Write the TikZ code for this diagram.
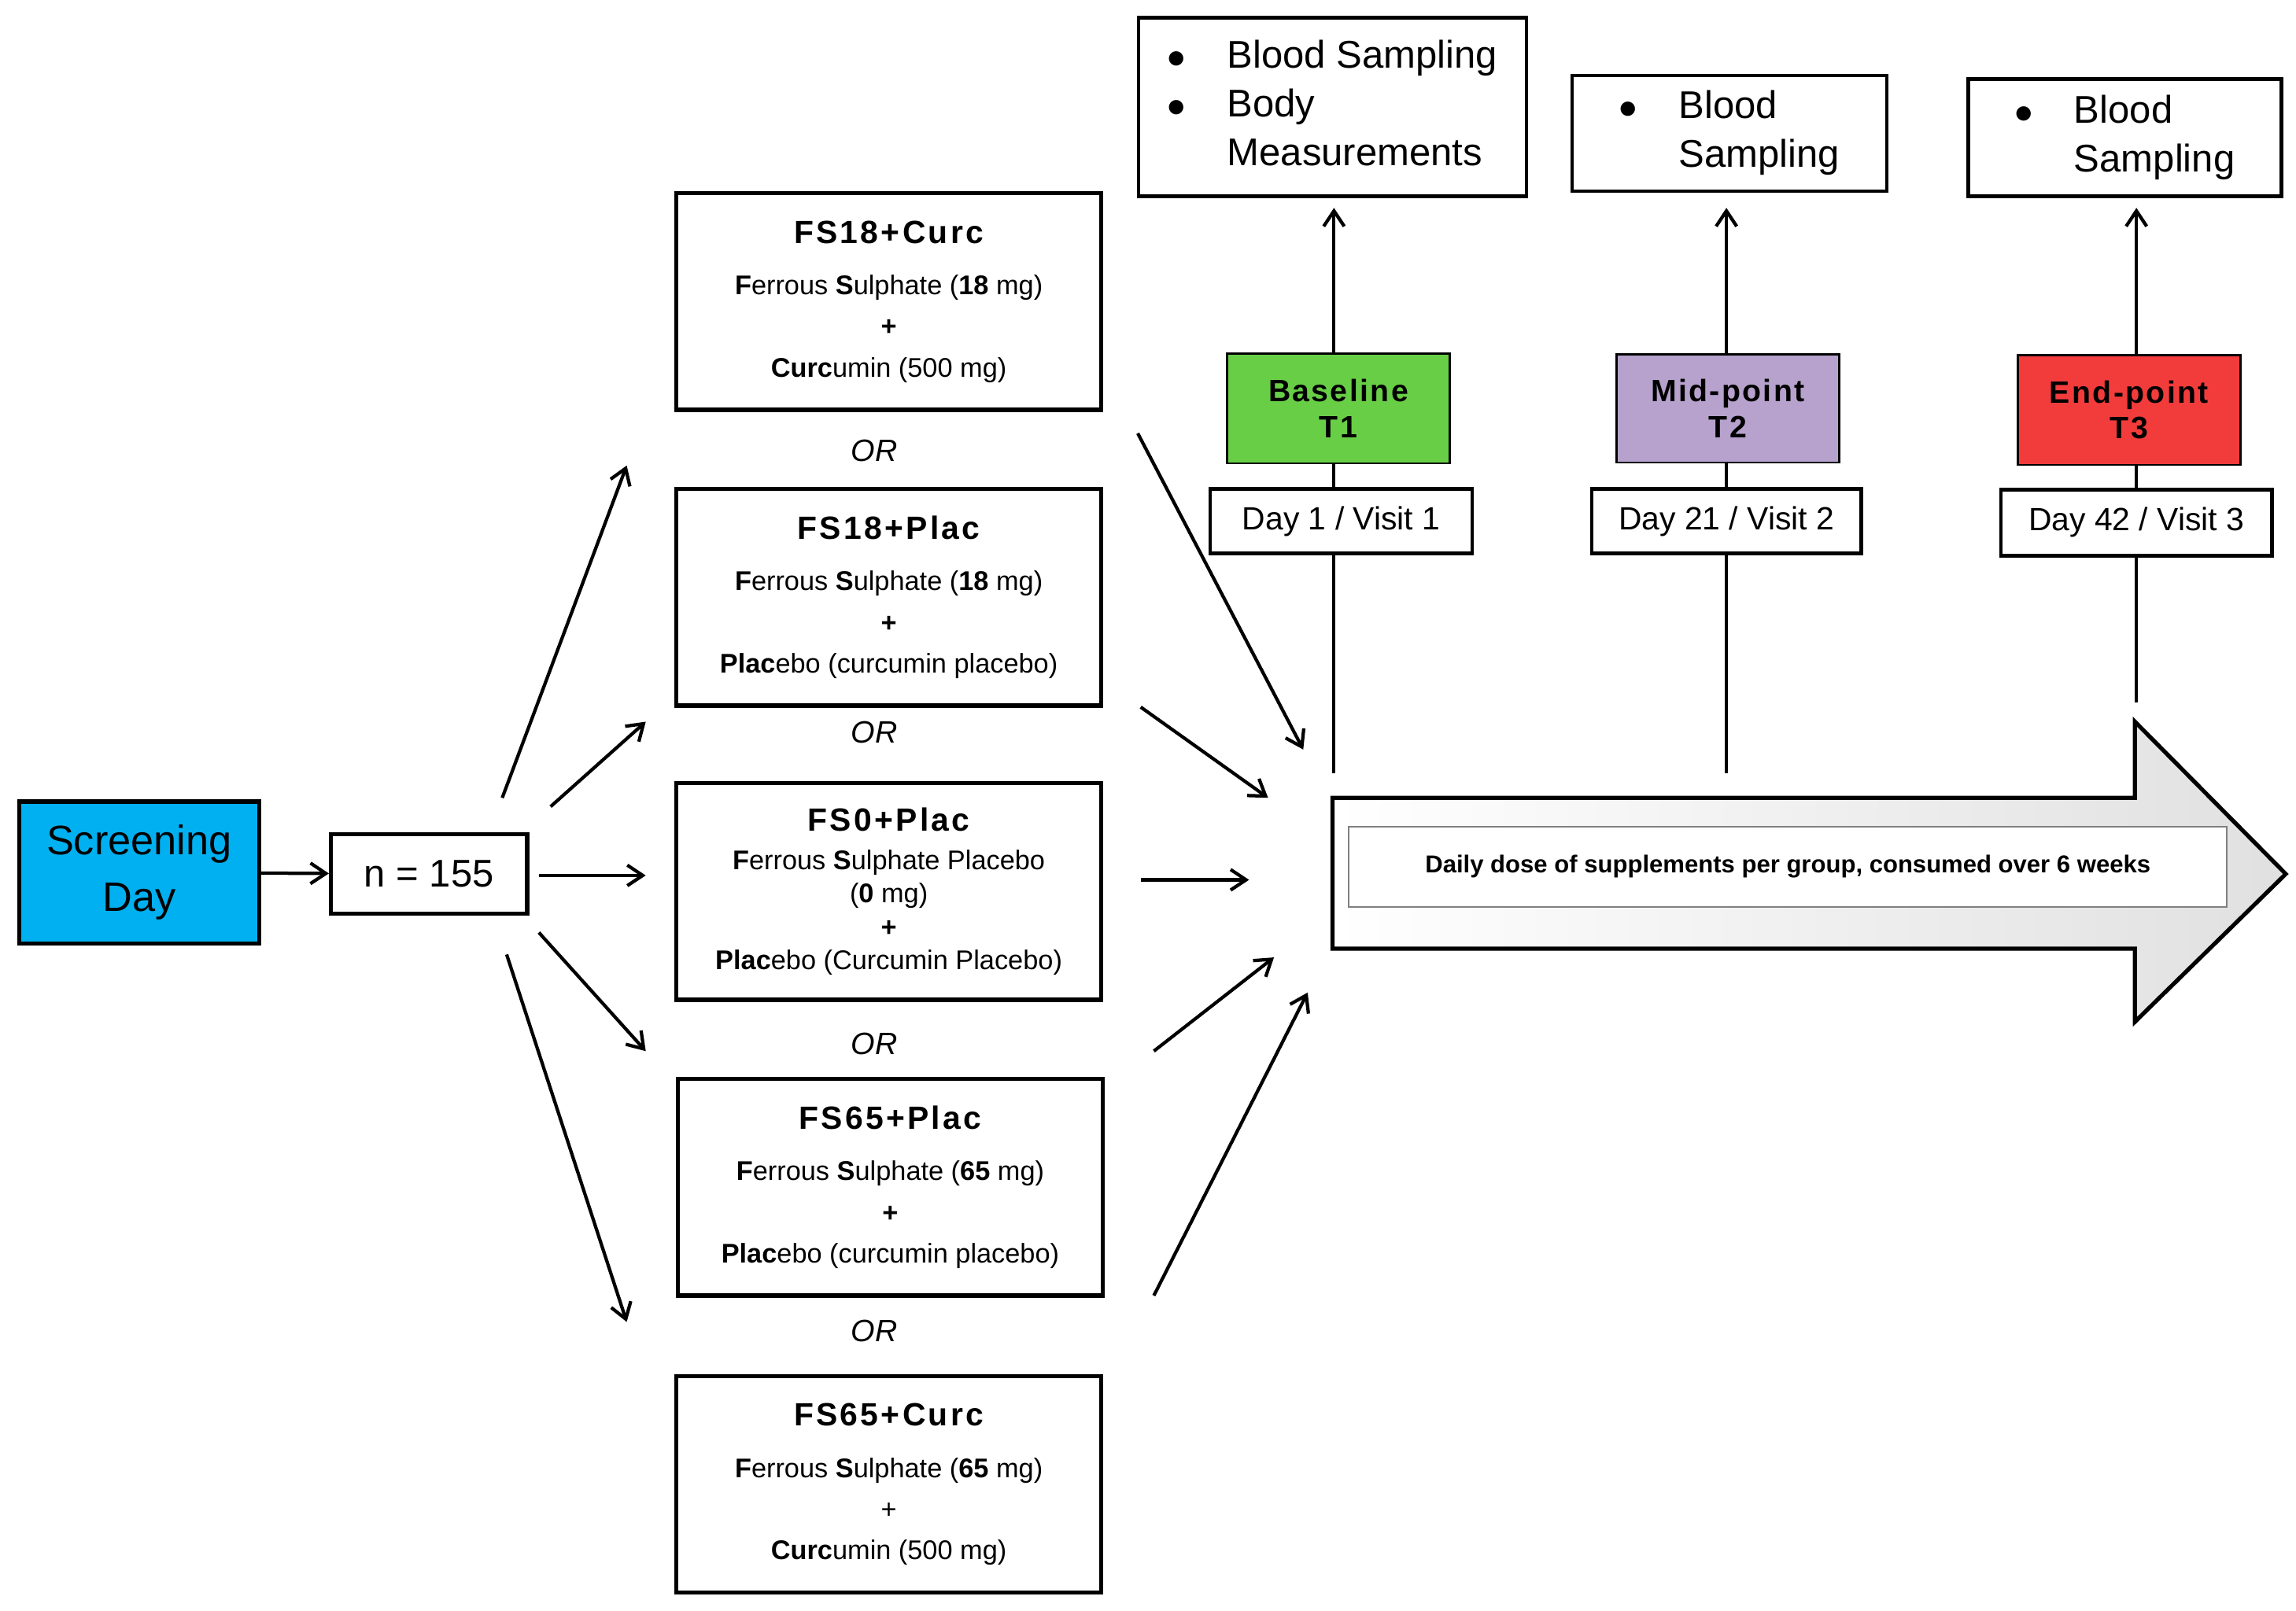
\documentclass[tikz,border=0pt]{standalone}
\usepackage{fontspec}
\setmainfont{Liberation Sans}
\usetikzlibrary{arrows.meta}
\definecolor{scr}{RGB}{0,176,240}
\definecolor{grn}{RGB}{104,206,70}
\definecolor{prp}{RGB}{182,162,204}
\definecolor{rd}{RGB}{242,60,60}
\newcommand\grpttl[1]{{\fontsize{12.5}{15}\selectfont\bfseries\addfontfeature{LetterSpace=8}#1}}
\begin{document}
\begin{tikzpicture}[x=0.02cm,y=-0.02cm,
  box/.style={draw,line width=1.6pt,fill=white,inner sep=2pt,align=center},
  grp/.style={box,minimum width=5.8cm,minimum height=2.96cm,font=\fontsize{10.5}{16}\selectfont},
  tbox/.style={box,align=left,font=\fontsize{15}{19}\selectfont,line width=1.4pt},
  tp/.style={box,line width=0.8pt,font=\fontsize{12}{14}\selectfont\bfseries\addfontfeature{LetterSpace=6}},
  day/.style={box,line width=1.4pt,font=\fontsize{12.5}{15}\selectfont},
  arr/.style={-{Straight Barb[length=6pt,width=8pt]},line width=1.3pt}]
\useasboundingbox (0,0) rectangle (1568,1100);

% timeline lines (behind boxes)
\coordinate (l1) at (911,528); \coordinate (l2) at (1179,528); \coordinate (l3) at (1459,480);
\coordinate (u1) at (911,142); \coordinate (u2) at (1179,142); \coordinate (u3) at (1459,142);
\draw[arr] (l1) -- (u1);
\draw[arr] (l2) -- (u2);
\draw[arr] (l3) -- (u3);

% start
\node[box,fill=scr,minimum width=3.28cm,minimum height=1.94cm,font=\fontsize{16}{22}\selectfont] (scr) at (95,596) {Screening\\Day};
\node[box,minimum width=2.68cm,minimum height=1.08cm,font=\fontsize{15}{18}\selectfont] (n) at (293,597) {n = 155};
\draw[arr] (scr) -- (n);

% groups
\node[grp] (g1) at (607,206) {\grpttl{FS18+Curc}\\[4pt]\textbf{F}errous \textbf{S}ulphate (\textbf{18} mg)\\\textbf{+}\\\textbf{Curc}umin (500 mg)};
\node[grp] (g2) at (607,408) {\grpttl{FS18+Plac}\\[4pt]\textbf{F}errous \textbf{S}ulphate (\textbf{18} mg)\\\textbf{+}\\\textbf{Plac}ebo (curcumin placebo)};
\node[grp,font=\fontsize{10.5}{13}\selectfont] (g3) at (607,609) {\grpttl{FS0+Plac}\\[2pt]\textbf{F}errous \textbf{S}ulphate Placebo\\(\textbf{0} mg)\\\textbf{+}\\\textbf{Plac}ebo (Curcumin Placebo)};
\node[grp] (g4) at (608,811) {\grpttl{FS65+Plac}\\[4pt]\textbf{F}errous \textbf{S}ulphate (\textbf{65} mg)\\\textbf{+}\\\textbf{Plac}ebo (curcumin placebo)};
\node[grp] (g5) at (607,1014) {\grpttl{FS65+Curc}\\[4pt]\textbf{F}errous \textbf{S}ulphate (\textbf{65} mg)\\+\\\textbf{Curc}umin (500 mg)};

\foreach \y/\nm in {308/o1,500/o2,713/o3,909/o4}
  \node[font=\fontsize{12}{14}\selectfont\itshape] (\nm) at (597,\y) {OR};

% fan out
\coordinate (a1) at (343,545); \coordinate (b1) at (428,318);
\coordinate (a2) at (376,551); \coordinate (b2) at (441,493);
\coordinate (a3) at (368,598); \coordinate (b3) at (441,598);
\coordinate (a4) at (368,637); \coordinate (b4) at (441,718);
\coordinate (a5) at (346,652); \coordinate (b5) at (428,903);
\foreach \i in {1,...,5} \draw[arr] (a\i) -- (b\i);

% fan in
\coordinate (c1) at (777,296); \coordinate (e1) at (890,512);
\coordinate (c2) at (779,483); \coordinate (e2) at (866,545);
\coordinate (c3) at (779,601); \coordinate (e3) at (853,601);
\coordinate (c4) at (788,718); \coordinate (e4) at (870,654);
\coordinate (c5) at (788,885); \coordinate (e5) at (893,678);
\foreach \i in {1,...,5} \draw[arr] (c\i) -- (e\i);

% big arrow
\draw[line width=1.6pt,left color=white,right color=black!12]
  (910,545) -- (1458,545) -- (1458,493) -- (1561,597) -- (1458,698) -- (1458,648) -- (910,648) -- cycle;
\node[draw=black!50,fill=white,line width=0.6pt,minimum width=12cm,minimum height=1.1cm,
  font=\fontsize{9.5}{11}\selectfont\bfseries] (dose) at (1221,592) {Daily dose of supplements per group, consumed over 6 weeks};

% time points
\node[tp,fill=grn,minimum width=3.04cm,minimum height=1.5cm] (t1) at (914,279) {Baseline\\T1};
\node[tp,fill=prp,minimum width=3.04cm,minimum height=1.48cm] (t2) at (1180,279) {Mid-point\\T2};
\node[tp,fill=rd,minimum width=3.04cm,minimum height=1.5cm] (t3) at (1454,280) {End-point\\T3};
\node[day,minimum width=3.58cm,minimum height=0.88cm] (d1) at (916,356) {Day 1 / Visit 1};
\node[day,minimum width=3.68cm,minimum height=0.88cm] (d2) at (1179,356) {Day 21 / Visit 2};
\node[day,minimum width=3.7cm,minimum height=0.9cm] (d3) at (1459,357) {Day 42 / Visit 3};

% measurement boxes
\node[tbox,minimum width=5.3cm,minimum height=2.44cm] (m1) at (910,73) {%
  \begin{tabular}{@{}l@{\hspace{16pt}}l@{}}$\bullet$&Blood Sampling\\$\bullet$&Body\\&Measurements\end{tabular}};
\node[tbox,minimum width=4.3cm,minimum height=1.58cm] (m2) at (1181,91) {%
  \begin{tabular}{@{}l@{\hspace{16pt}}l@{}}$\bullet$&Blood\\&Sampling\end{tabular}};
\node[tbox,minimum width=4.28cm,minimum height=1.6cm] (m3) at (1451,94) {%
  \begin{tabular}{@{}l@{\hspace{16pt}}l@{}}$\bullet$&Blood\\&Sampling\end{tabular}};
\end{tikzpicture}
\end{document}
